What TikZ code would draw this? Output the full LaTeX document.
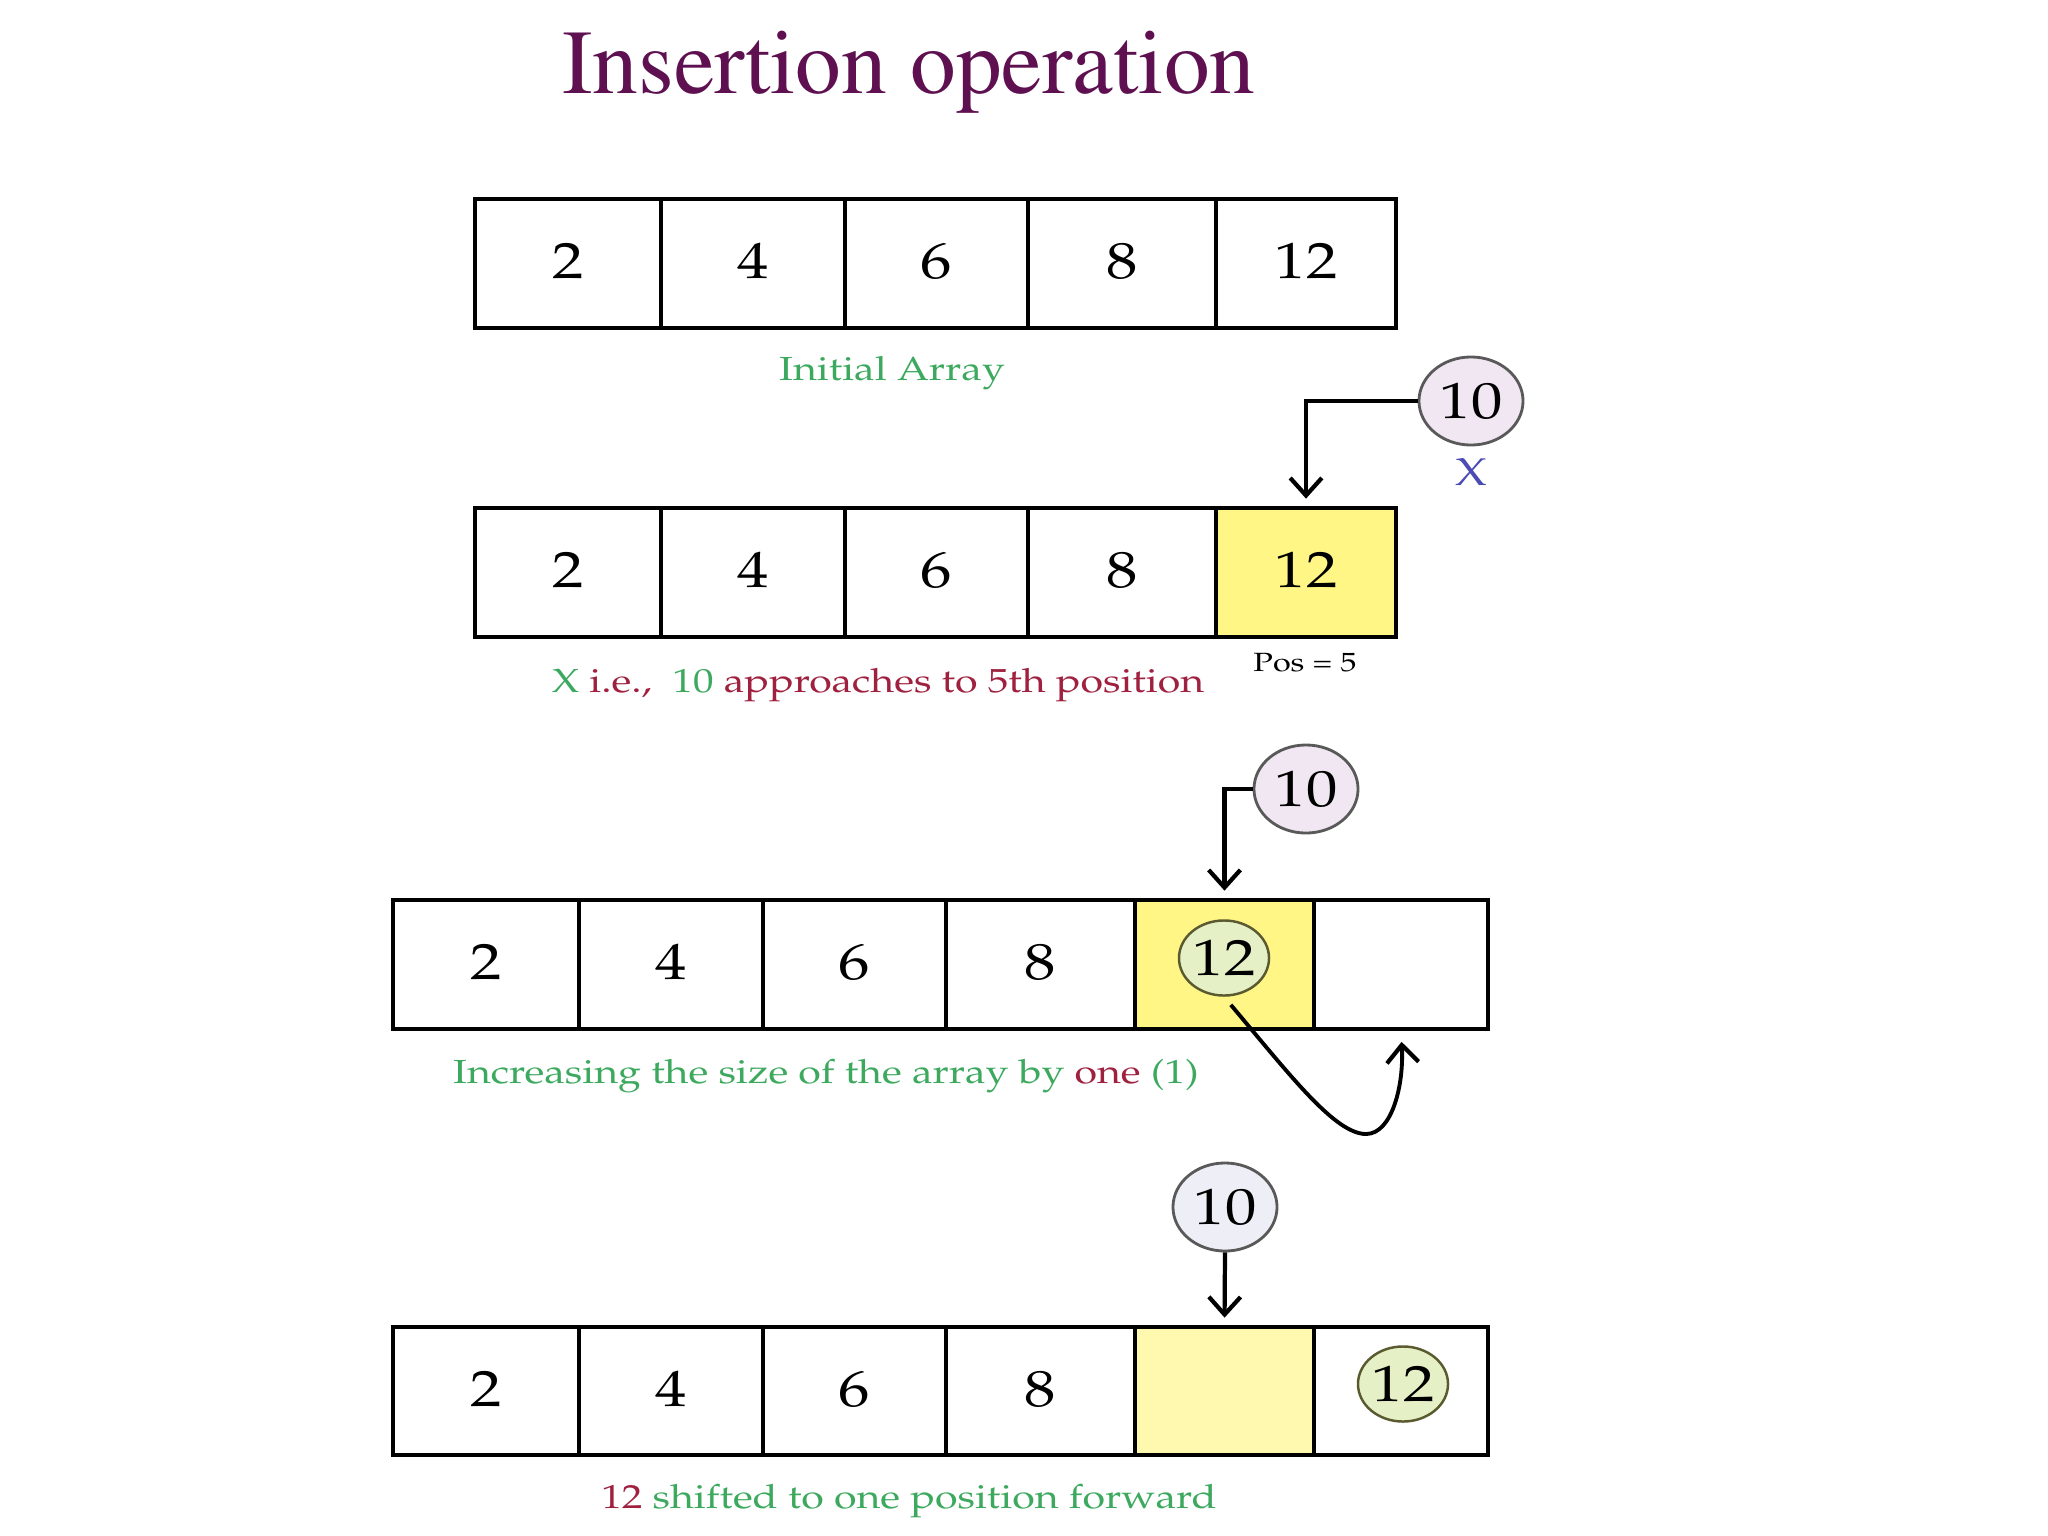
\documentclass[tikz,border=0pt]{standalone}
\usepackage[T1]{fontenc}
\usepackage{mathpazo}
\usepackage{graphicx}
\usetikzlibrary{arrows.meta,shapes.geometric}
\definecolor{titlec}{HTML}{5E1050}
\definecolor{lgreen}{HTML}{3DA95F}
\definecolor{dred}{HTML}{A0213F}
\definecolor{xblue}{HTML}{4B4BB5}
\definecolor{yel}{HTML}{FFF685}
\definecolor{paleyel}{HTML}{FFF9B0}
\definecolor{lav}{HTML}{F1E7F2}
\definecolor{lav2}{HTML}{EEEEF6}
\definecolor{pgreen}{HTML}{E6F0C6}
\definecolor{olive}{HTML}{5A5A30}
\newcommand{\wx}[1]{\scalebox{1.23}[1]{#1}}
\newcommand{\dg}[1]{\raisebox{1.5pt}{\wx{#1}}}
\begin{document}
\begin{tikzpicture}[x=0.01cm,y=-0.01cm,
  cell/.style={draw, line width=1.3pt, inner sep=0pt, minimum height=1.29cm,
    font=\fontsize{14.5}{17}\selectfont},
  valnode/.style={ellipse, draw=black!65, line width=0.8pt, fill=lav, inner sep=0pt,
    minimum width=1.04cm, minimum height=0.88cm, font=\fontsize{14.5}{17}\selectfont},
  movnode/.style={ellipse, draw=olive, line width=0.7pt, fill=pgreen, inner sep=0pt,
    minimum width=0.90cm, minimum height=0.75cm, font=\fontsize{14.5}{17}\selectfont},
  lbl/.style={anchor=base, inner sep=0pt, font=\fontsize{9.5}{11}\selectfont},
  arr/.style={line width=1.2pt, -{Straight Barb[length=5pt,width=9pt,line width=1.2pt]}}
]
\useasboundingbox (0,0) rectangle (2048,1536);

% title
\node[anchor=base, inner sep=0pt, text=titlec,
  font=\fontfamily{ptm}\fontsize{26}{30}\selectfont] (title) at (909,93) {Insertion operation};

% array 1
\node[cell, minimum width=1.86cm] (a11) at (568,263.5) {\dg{2}};
\node[cell, minimum width=1.84cm] (a12) at (753,263.5) {\dg{4}};
\node[cell, minimum width=1.83cm] (a13) at (936.5,263.5) {\dg{6}};
\node[cell, minimum width=1.88cm] (a14) at (1122,263.5) {\dg{8}};
\node[cell, minimum width=1.80cm] (a15) at (1306,263.5) {\dg{12}};
\node[lbl, text=lgreen] (l1) at (892,380) {\wx{Initial Array}};

% array 2
\node[cell, minimum width=1.86cm] (a21) at (568,572.5) {\dg{2}};
\node[cell, minimum width=1.84cm] (a22) at (753,572.5) {\dg{4}};
\node[cell, minimum width=1.83cm] (a23) at (936.5,572.5) {\dg{6}};
\node[cell, minimum width=1.88cm] (a24) at (1122,572.5) {\dg{8}};
\node[cell, minimum width=1.80cm, fill=yel] (a25) at (1306,572.5) {\dg{12}};
\node[valnode] (c2) at (1471,401) {\wx{10}};
\node[lbl, text=xblue, font=\fontsize{11}{13}\selectfont] (xl) at (1471,485) {\wx{X}};
\draw[arr, shorten >=2pt] (c2.west) -| (a25.north);
\node[lbl, font=\fontsize{7.5}{9}\selectfont] (pos) at (1305,671) {\wx{Pos = 5}};
\node[lbl] (l2) at (878,692) {\wx{\color{lgreen}X \color{dred}i.e.,\ \ \color{lgreen}10 \color{dred}approaches to 5th position}};

% array 3
\node[cell, minimum width=1.86cm] (a31) at (486,964.5) {\dg{2}};
\node[cell, minimum width=1.84cm] (a32) at (671,964.5) {\dg{4}};
\node[cell, minimum width=1.83cm] (a33) at (854.5,964.5) {\dg{6}};
\node[cell, minimum width=1.89cm] (a34) at (1040.5,964.5) {\dg{8}};
\node[cell, minimum width=1.79cm, fill=yel] (a35) at (1224.5,964.5) {};
\node[cell, minimum width=1.74cm] (a36) at (1401,964.5) {};
\node[movnode] (t3) at (1224,958) {\wx{12}};
\node[valnode] (c3) at (1306,789) {\wx{10}};
\draw[arr, shorten >=2pt] (c3.west) -| (a35.north);
\coordinate (bend) at (1366,1134);
\draw[arr, line width=1.1pt, shorten <=3pt, shorten >=3pt]
  (t3.south) .. controls (1290,1075) and (1335,1134) .. (bend)
  .. controls (1392,1134) and (1404,1085) .. (a36.south);
\node[lbl] (l3) at (826,1083) {\wx{\color{lgreen}Increasing the size of the array by \color{dred}one \color{lgreen}(1)}};

% array 4
\node[cell, minimum width=1.86cm, minimum height=1.28cm] (a41) at (486,1391) {\dg{2}};
\node[cell, minimum width=1.84cm, minimum height=1.28cm] (a42) at (671,1391) {\dg{4}};
\node[cell, minimum width=1.83cm, minimum height=1.28cm] (a43) at (854.5,1391) {\dg{6}};
\node[cell, minimum width=1.89cm, minimum height=1.28cm] (a44) at (1040.5,1391) {\dg{8}};
\node[cell, minimum width=1.79cm, minimum height=1.28cm, fill=paleyel] (a45) at (1224.5,1391) {};
\node[cell, minimum width=1.74cm, minimum height=1.28cm] (a46) at (1401,1391) {};
\node[movnode] (t4) at (1403,1384) {\wx{12}};
\node[valnode, fill=lav2] (c4) at (1225,1207) {\wx{10}};
\draw[arr, shorten >=2pt] (c4.south) -- (a45.north);
\node[lbl] (l4) at (909,1508) {\wx{\color{dred}12 \color{lgreen}shifted to one position forward}};
\end{tikzpicture}
\end{document}
